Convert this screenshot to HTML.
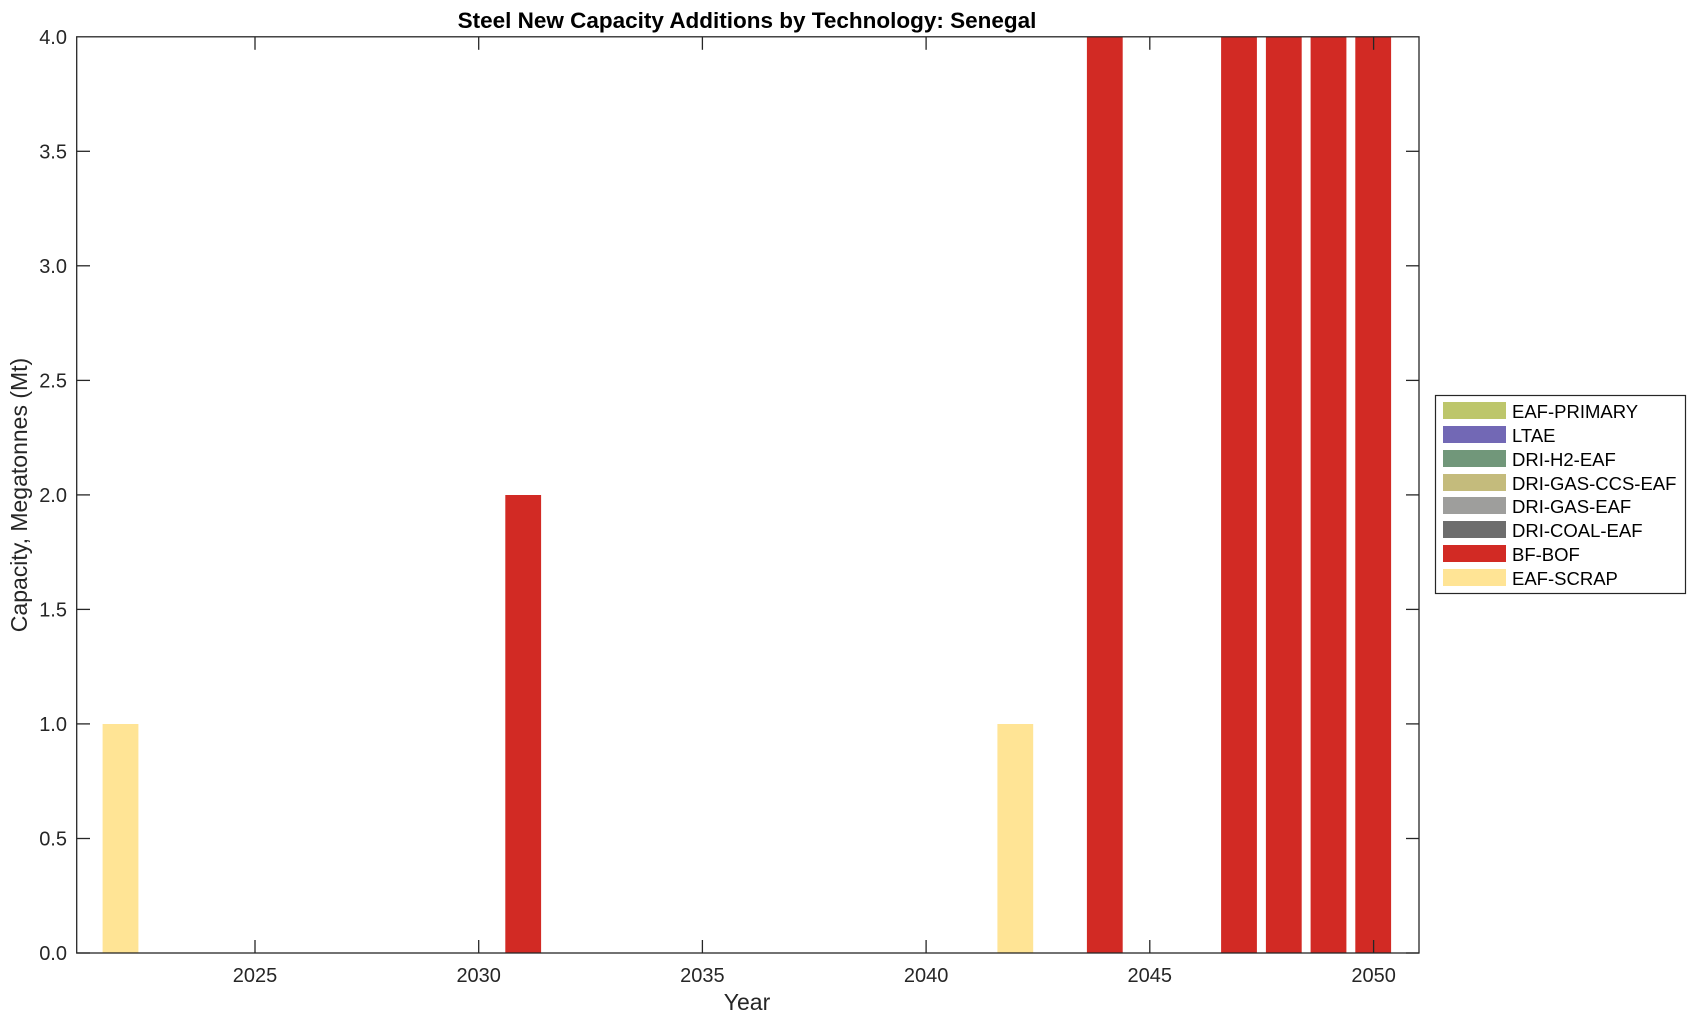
<!DOCTYPE html>
<html><head><meta charset="utf-8"><style>
html,body{margin:0;padding:0;background:#fff;}
svg{display:block;font-family:"Liberation Sans",Arial,sans-serif;}
</style></head><body>
<svg width="1696" height="1021" viewBox="0 0 1696 1021" xmlns="http://www.w3.org/2000/svg">
<rect width="1696" height="1021" fill="#fff"/>
<g fill="#ffe495">
<rect x="102.6" y="724" width="35.8" height="229"/>
<rect x="997.4" y="724" width="35.8" height="229"/>
</g>
<g fill="#d22a24">
<rect x="505.3" y="495" width="35.8" height="458"/>
<rect x="1086.9" y="36.8" width="35.8" height="916.2"/>
<rect x="1221.1" y="36.8" width="35.8" height="916.2"/>
<rect x="1265.9" y="36.8" width="35.8" height="916.2"/>
<rect x="1310.6" y="36.8" width="35.8" height="916.2"/>
<rect x="1355.3" y="36.8" width="35.8" height="916.2"/>
</g>
<rect x="76.7" y="36.8" width="1342.3" height="916.2" fill="none" stroke="#262626" stroke-width="1.3"/>
<g stroke="#262626" stroke-width="1.3">
<line x1="255" y1="953" x2="255" y2="940"/><line x1="255" y1="36.8" x2="255" y2="49.8"/>
<line x1="478.7" y1="953" x2="478.7" y2="940"/><line x1="478.7" y1="36.8" x2="478.7" y2="49.8"/>
<line x1="702.4" y1="953" x2="702.4" y2="940"/><line x1="702.4" y1="36.8" x2="702.4" y2="49.8"/>
<line x1="926.1" y1="953" x2="926.1" y2="940"/><line x1="926.1" y1="36.8" x2="926.1" y2="49.8"/>
<line x1="1149.8" y1="953" x2="1149.8" y2="940"/><line x1="1149.8" y1="36.8" x2="1149.8" y2="49.8"/>
<line x1="1373.6" y1="953" x2="1373.6" y2="940"/><line x1="1373.6" y1="36.8" x2="1373.6" y2="49.8"/>
</g>
<g stroke="#262626" stroke-width="1.3">
<line x1="76.7" y1="953" x2="90" y2="953"/><line x1="1419" y1="953" x2="1406" y2="953"/>
<line x1="76.7" y1="838.5" x2="90" y2="838.5"/><line x1="1419" y1="838.5" x2="1406" y2="838.5"/>
<line x1="76.7" y1="723.9" x2="90" y2="723.9"/><line x1="1419" y1="723.9" x2="1406" y2="723.9"/>
<line x1="76.7" y1="609.4" x2="90" y2="609.4"/><line x1="1419" y1="609.4" x2="1406" y2="609.4"/>
<line x1="76.7" y1="494.9" x2="90" y2="494.9"/><line x1="1419" y1="494.9" x2="1406" y2="494.9"/>
<line x1="76.7" y1="380.4" x2="90" y2="380.4"/><line x1="1419" y1="380.4" x2="1406" y2="380.4"/>
<line x1="76.7" y1="265.8" x2="90" y2="265.8"/><line x1="1419" y1="265.8" x2="1406" y2="265.8"/>
<line x1="76.7" y1="151.3" x2="90" y2="151.3"/><line x1="1419" y1="151.3" x2="1406" y2="151.3"/>
</g>
<g font-size="20" fill="#262626" text-anchor="end">
<text x="67" y="960">0.0</text><text x="67" y="845.5">0.5</text><text x="67" y="731">1.0</text>
<text x="67" y="616.5">1.5</text><text x="67" y="502">2.0</text><text x="67" y="387.5">2.5</text>
<text x="67" y="273">3.0</text><text x="67" y="158.5">3.5</text><text x="67" y="44">4.0</text>
</g>
<g font-size="20" fill="#262626" text-anchor="middle">
<text x="255" y="982">2025</text><text x="478.7" y="982">2030</text><text x="702.4" y="982">2035</text>
<text x="926.1" y="982">2040</text><text x="1149.8" y="982">2045</text><text x="1373.6" y="982">2050</text>
<text x="747" y="1010" font-size="23">Year</text>
<text x="747" y="28" font-size="22.5" font-weight="bold" fill="#000">Steel New Capacity Additions by Technology: Senegal</text>
<text transform="translate(27,495) rotate(-90)" font-size="23">Capacity, Megatonnes (Mt)</text>
</g>
<rect x="1435.5" y="395.5" width="250" height="198" fill="#fff" stroke="#262626" stroke-width="1.2"/>
<g>
<rect x="1443" y="402" width="63" height="17" fill="#bdc66b"/>
<rect x="1443" y="426" width="63" height="17" fill="#7268b5"/>
<rect x="1443" y="450" width="63" height="17" fill="#71977a"/>
<rect x="1443" y="474" width="63" height="17" fill="#c4bb7c"/>
<rect x="1443" y="497" width="63" height="17" fill="#9e9e9c"/>
<rect x="1443" y="521" width="63" height="17" fill="#6d6d6d"/>
<rect x="1443" y="545" width="63" height="17" fill="#d22a24"/>
<rect x="1443" y="569" width="63" height="17" fill="#ffe495"/>
</g>
<g font-size="18.5" fill="#000">
<text x="1512" y="418">EAF-PRIMARY</text>
<text x="1512" y="442">LTAE</text>
<text x="1512" y="466">DRI-H2-EAF</text>
<text x="1512" y="490">DRI-GAS-CCS-EAF</text>
<text x="1512" y="513">DRI-GAS-EAF</text>
<text x="1512" y="537">DRI-COAL-EAF</text>
<text x="1512" y="561">BF-BOF</text>
<text x="1512" y="585">EAF-SCRAP</text>
</g>
</svg>
</body></html>
